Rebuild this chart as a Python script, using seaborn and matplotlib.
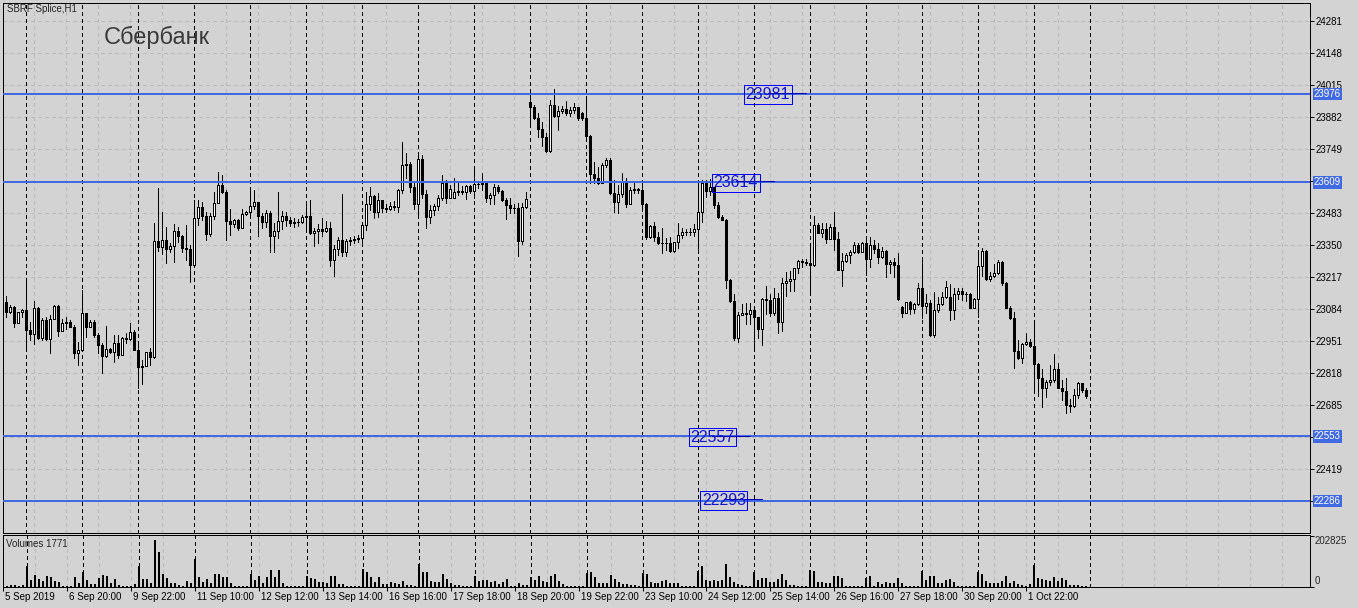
import numpy as np
import pandas as pd
import seaborn as sns
import matplotlib.pyplot as plt
from matplotlib import transforms

W, H, DPI = 1358, 608, 100
PX = 72 / DPI  # one pixel in points

# -------------------------
# Data: SBRF Splice, H1 bars (MOEX session 10:00-23:00)
# -------------------------
sessions = ["2019-09-05", "2019-09-06", "2019-09-09", "2019-09-10", "2019-09-11",
            "2019-09-12", "2019-09-13", "2019-09-16", "2019-09-17", "2019-09-18",
            "2019-09-19", "2019-09-20", "2019-09-23", "2019-09-24", "2019-09-25",
            "2019-09-26", "2019-09-27", "2019-09-30", "2019-10-01", "2019-10-02"]
first_bar_hour = 18

close_px = [
    23113, 23072, 23093, 23023, 23069, 23079,
    22996, 22978, 23086, 22964, 23037, 22957, 23041, 23095, 22993, 23023, 23028, 23010, 22902, 22913,
    23065, 23010, 23030, 22975, 22933, 22888, 22917, 22906, 22943, 22892, 22964, 22958, 22989, 22913,
    22843, 22846, 22903, 22885, 23366, 23342, 23370, 23331, 23345, 23407, 23388, 23338, 23331, 23266,
    23460, 23508, 23469, 23393, 23469, 23525, 23598, 23568, 23450, 23435, 23453, 23418, 23478, 23487,
    23512, 23526, 23471, 23446, 23480, 23388, 23407, 23449, 23469, 23453, 23442, 23444, 23443, 23464,
    23469, 23397, 23407, 23415, 23407, 23421, 23287, 23332, 23370, 23321, 23366, 23370, 23374, 23378,
    23432, 23519, 23552, 23485, 23536, 23504, 23498, 23511, 23505, 23577, 23681, 23686, 23591, 23519,
    23705, 23561, 23467, 23494, 23511, 23543, 23605, 23545, 23580, 23570, 23573, 23568, 23594, 23573,
    23602, 23602, 23605, 23545, 23557, 23589, 23575, 23536, 23515, 23504, 23503, 23366, 23505, 23540,
    23924, 23878, 23831, 23799, 23739, 23931, 23886, 23907, 23914, 23896, 23910, 23921, 23878, 23875,
    23803, 23644, 23626, 23605, 23681, 23702, 23564, 23526, 23559, 23612, 23519, 23577, 23582, 23577,
    23518, 23381, 23428, 23383, 23356, 23359, 23359, 23325, 23360, 23390, 23402, 23404, 23402, 23415,
    23485, 23608, 23573, 23589, 23515, 23464, 23453, 23203, 23118, 22964, 23058, 23065, 23061, 23079,
    23048, 22998, 23123, 23120, 23065, 23130, 23030, 23190, 23199, 23208, 23252, 23282, 23278, 23273,
    23264, 23432, 23400, 23415, 23374, 23425, 23374, 23245, 23282, 23307, 23321, 23349, 23318, 23359,
    23289, 23349, 23331, 23298, 23324, 23269, 23280, 23266, 23123, 23068, 23111, 23082, 23104, 23169,
    23095, 23106, 22975, 23079, 23102, 23131, 23173, 23079, 23145, 23159, 23144, 23144, 23088, 23124,
    23262, 23324, 23206, 23220, 23234, 23280, 23192, 23088, 23044, 22910, 22881, 22938, 22944, 22931,
    22853, 22795, 22753, 22781, 22788, 22832, 22756, 22740, 22684, 22680, 22726, 22774, 22746, 22723,
]

high_px = [
    23137, 23137, 23100, 23095, 23072, 23082,
    23210, 23030, 23116, 23093, 23044, 23051, 23058, 23098, 23100, 23040, 23048, 23037, 23017, 22947,
    23162, 23068, 23037, 23037, 22982, 22940, 23014, 22920, 22975, 22975, 22968, 22985, 23023, 22996,
    22933, 22871, 22906, 22920, 23439, 23584, 23487, 23425, 23356, 23436, 23425, 23390, 23432, 23349,
    23536, 23536, 23529, 23487, 23480, 23571, 23652, 23640, 23577, 23497, 23456, 23456, 23497, 23490,
    23584, 23577, 23529, 23480, 23494, 23490, 23439, 23570, 23490, 23485, 23464, 23460, 23456, 23474,
    23519, 23536, 23418, 23435, 23460, 23449, 23446, 23349, 23384, 23561, 23372, 23384, 23386, 23390,
    23436, 23568, 23591, 23557, 23564, 23536, 23519, 23529, 23533, 23580, 23775, 23730, 23695, 23612,
    23733, 23723, 23577, 23515, 23519, 23557, 23640, 23619, 23598, 23626, 23605, 23594, 23598, 23598,
    23667, 23612, 23647, 23598, 23566, 23602, 23598, 23578, 23543, 23543, 23518, 23522, 23525, 23571,
    23972, 23931, 23896, 23861, 23816, 23951, 23996, 23927, 23928, 23949, 23924, 23940, 23924, 23903,
    23958, 23806, 23695, 23672, 23688, 23709, 23709, 23619, 23598, 23647, 23626, 23591, 23605, 23584,
    23619, 23522, 23432, 23446, 23404, 23418, 23379, 23383, 23363, 23439, 23418, 23414, 23418, 23436,
    23608, 23619, 23619, 23622, 23591, 23529, 23474, 23457, 23208, 23144, 23072, 23104, 23106, 23106,
    23079, 23051, 23127, 23178, 23145, 23169, 23148, 23210, 23238, 23242, 23252, 23287, 23289, 23289,
    23345, 23469, 23439, 23442, 23439, 23436, 23485, 23404, 23314, 23317, 23328, 23363, 23359, 23363,
    23372, 23383, 23370, 23356, 23342, 23328, 23287, 23293, 23314, 23095, 23113, 23116, 23109, 23190,
    23287, 23145, 23120, 23155, 23134, 23155, 23199, 23185, 23169, 23169, 23169, 23155, 23148, 23127,
    23314, 23338, 23328, 23238, 23270, 23287, 23282, 23197, 23095, 23072, 22954, 22940, 22982, 22957,
    23021, 22857, 22834, 22788, 22850, 22896, 22857, 22788, 22795, 22709, 22749, 22778, 22777, 22756,
]

low_px = [
    23051, 23051, 23065, 23010, 23023, 23051,
    22926, 22954, 22936, 22957, 22954, 22954, 22899, 23044, 22972, 22996, 22998, 23010, 22878, 22850,
    22926, 22968, 23010, 22968, 22899, 22816, 22885, 22899, 22861, 22878, 22892, 22940, 22954, 22913,
    22753, 22771, 22848, 22850, 22878, 23325, 23312, 23273, 23321, 23280, 23363, 23321, 23287, 23197,
    23321, 23432, 23453, 23370, 23388, 23456, 23522, 23564, 23370, 23390, 23425, 23411, 23418, 23474,
    23469, 23498, 23388, 23418, 23425, 23318, 23321, 23379, 23414, 23428, 23428, 23425, 23429, 23442,
    23411, 23395, 23346, 23356, 23386, 23404, 23263, 23221, 23307, 23303, 23303, 23349, 23356, 23363,
    23349, 23411, 23494, 23460, 23467, 23487, 23487, 23494, 23494, 23485, 23566, 23626, 23570, 23498,
    23474, 23543, 23421, 23442, 23474, 23494, 23536, 23522, 23545, 23543, 23557, 23559, 23540, 23564,
    23543, 23584, 23577, 23529, 23518, 23519, 23566, 23533, 23457, 23483, 23480, 23305, 23353, 23501,
    23845, 23872, 23799, 23762, 23734, 23734, 23882, 23827, 23896, 23889, 23885, 23896, 23868, 23868,
    23799, 23605, 23605, 23601, 23615, 23672, 23559, 23487, 23483, 23550, 23508, 23519, 23564, 23564,
    23508, 23374, 23377, 23367, 23352, 23314, 23328, 23321, 23321, 23335, 23379, 23390, 23390, 23388,
    23330, 23446, 23550, 23557, 23501, 23460, 23453, 23169, 23113, 22954, 22947, 23058, 23021, 23021,
    22926, 22964, 22933, 23062, 23054, 23058, 22985, 22993, 23138, 23159, 23159, 23234, 23259, 23266,
    23151, 23263, 23397, 23383, 23356, 23372, 23328, 23245, 23180, 23280, 23273, 23314, 23314, 23325,
    23224, 23259, 23314, 23275, 23293, 23217, 23231, 23214, 23120, 23048, 23065, 23062, 23068, 23100,
    23044, 23065, 22972, 22968, 23072, 23100, 23127, 23037, 23041, 23124, 23120, 23118, 23086, 23086,
    23051, 23220, 23203, 23201, 23214, 23228, 23183, 23086, 23040, 22836, 22874, 22860, 22933, 22926,
    22746, 22723, 22674, 22719, 22767, 22781, 22753, 22705, 22650, 22654, 22677, 22712, 22739, 22715,
]

# open = previous close, except where the bar opened away from it
first_open = 23080
gap_open = {113: 23545, 132: 23942, 145: 23899, 225: 23090, 237: 23131}

# volume, thousands of contracts
volume_k = [
    3, 4, 6, 6, 4, 7,
    81, 27, 47, 30, 23, 43, 39, 24, 18, 4, 3, 3, 37, 16,
    57, 27, 11, 11, 34, 47, 41, 16, 30, 7, 4, 4, 4, 11,
    84, 30, 30, 16, 189, 138, 51, 34, 16, 16, 7, 4, 23, 16,
    111, 37, 20, 30, 14, 51, 50, 37, 37, 16, 4, 4, 4, 4,
    50, 27, 43, 14, 38, 68, 37, 68, 16, 3, 3, 3, 1, 1,
    41, 34, 31, 20, 20, 14, 43, 41, 11, 11, 4, 3, 3, 4,
    72, 57, 37, 20, 37, 11, 9, 20, 14, 9, 23, 7, 7, 4,
    92, 57, 57, 24, 20, 20, 51, 31, 16, 7, 7, 4, 4, 4,
    43, 23, 27, 27, 20, 23, 11, 20, 31, 4, 3, 14, 7, 7,
    38, 27, 43, 23, 20, 43, 51, 24, 11, 4, 4, 3, 3, 3,
    54, 57, 38, 16, 16, 16, 47, 30, 20, 9, 11, 7, 7, 4,
    54, 51, 18, 14, 14, 23, 27, 16, 14, 16, 4, 1, 1, 1,
    61, 84, 27, 24, 27, 23, 27, 92, 37, 18, 9, 7, 4, 3,
    58, 27, 34, 34, 18, 20, 31, 51, 27, 7, 7, 4, 3, 1,
    68, 64, 18, 18, 16, 16, 43, 43, 34, 4, 4, 4, 4, 1,
    34, 43, 4, 18, 12, 18, 14, 16, 34, 16, 4, 4, 4, 4,
    61, 27, 43, 41, 14, 16, 27, 30, 18, 4, 3, 4, 4, 3,
    57, 51, 23, 14, 14, 16, 23, 43, 16, 23, 9, 7, 4, 9,
    88, 34, 31, 27, 24, 38, 24, 34, 27, 7, 7, 7, 4, 1.771,
]
vol_max_k = 202.825

price_ticks = [24281, 24148, 24015, 23882, 23749, 23616, 23483, 23350,
               23217, 23084, 22951, 22818, 22685, 22552, 22419, 22286]
level_lines = [23976, 23609, 22553, 22286]
level_labels = [23981, 23614, 22557, 22293]

# -------------------------
# layout / style
# -------------------------
label_bar = [191.4, 183.4, 177.5, 180.4]   # where the level labels sit (bar units)
XLIM = (0.1, 327.0)
YLIM = (22150.6, 24356)
BG = "#d3d3d3"
GRID = "#bababa"
BLUE = "#4169e1"

sns.set_theme(style="white", rc={"axes.facecolor": BG, "figure.facecolor": BG,
                                 "lines.scale_dashes": False})
plt.rcParams["font.family"] = ["Liberation Sans", "DejaVu Sans"]

# bar timestamps -> day separators and time labels
times = []
for k, d in enumerate(pd.to_datetime(sessions)):
    start = first_bar_hour if k == 0 else 10
    times += [d + pd.Timedelta(hours=h) for h in range(start, 24)]
bars = pd.DataFrame({"time": times, "close": close_px, "high": high_px,
                     "low": low_px, "volume": volume_k})
bars["bar"] = np.arange(len(bars))
bars["open"] = [first_open] + close_px[:-1]
for i, v in gap_open.items():
    bars.loc[i, "open"] = v
day = bars["time"].dt.date
separators = list(bars.index[day != day.shift()][1:]) + [len(bars)]
label_idx = list(range(0, len(bars), 16))
time_labels = [f"{t.day} {t:%b %Y}" if k == 0 else f"{t.day} {t:%b %H:%M}"
               for k, t in enumerate(bars["time"].iloc[label_idx])]


def box(x0, y0, x1, y1):
    return [x0 / W, 1 - y1 / H, (x1 - x0) / W, (y1 - y0) / H]


fig = plt.figure(figsize=(W / DPI, H / DPI), dpi=DPI)
ax = fig.add_axes(box(2.7, 2.7, 1310.3, 533.3))
axv = fig.add_axes(box(2.7, 535.0, 1310.3, 586.7))

for a in (ax, axv):
    for s in a.spines.values():
        s.set_color("black")
        s.set_linewidth(PX)
    for k in range(0, 330, 8):
        a.axvline(k, color=GRID, lw=PX, ls=(0, (4 * PX, 4 * PX)), zorder=0.5, antialiased=False)
    for s in separators:
        a.axvline(s, color="black", lw=PX, ls=(0, (3 * PX, 3 * PX)), zorder=0.6, antialiased=False)

for p in price_ticks:
    ax.axhline(p, color=GRID, lw=PX, ls=(0, (4 * PX, 4 * PX)), zorder=0.5, antialiased=False)

# candles
bull = bars["close"] >= bars["open"]
ax.vlines(bars["bar"], bars["low"], bars["high"], colors="black", lw=PX,
          zorder=2, antialiased=False)
ax.bar(bars["bar"], bars["close"] - bars["open"], bottom=bars["open"], width=0.5,
       color=np.where(bull, "white", "black"), edgecolor="black", linewidth=PX,
       zorder=3, antialiased=False)

# horizontal levels
for v in level_lines:
    ax.axhline(v, color=BLUE, lw=2 * PX, zorder=4)
    ax.annotate(str(v), xy=(1, v), xycoords=("axes fraction", "data"),
                xytext=(3.5 * PX, 0), textcoords="offset points", ha="left", va="center",
                fontsize=7, color="white", annotation_clip=False,
                bbox=dict(boxstyle="square,pad=0.12", fc=BLUE, ec="none"))

for v, b in zip(level_labels, label_bar):
    ax.plot([b, b + 9.5], [v, v], color="#0000b0", lw=PX, zorder=5)
    ax.text(b, v, str(v), ha="center", va="center_baseline", fontsize=11.5, color="#1515d0",
            zorder=6, bbox=dict(boxstyle="square,pad=0.1", fc="none", ec="#0000ff", lw=PX))

ax.set_xlim(*XLIM)
ax.set_ylim(*YLIM)
ax.set_xticks([])
ax.yaxis.tick_right()
ax.set_yticks(price_ticks)
ax.set_yticklabels(["" if min(abs(p - lv) for lv in level_lines) < 12 else str(p)
                    for p in price_ticks])
ax.tick_params(axis="y", direction="out", length=4 * PX, width=PX, pad=1.2 * PX,
               labelsize=7, colors="black")

# volumes
sns.barplot(data=bars, x="bar", y="volume", native_scale=True, color="black",
            saturation=1, width=0.5, errorbar=None, linewidth=0, ax=axv)
for p in axv.patches:
    p.set_antialiased(False)
axv.set_xlim(*XLIM)
axv.set_ylim(0, vol_max_k * 50 / 49.3 * 1.0 + 1.5)
axv.set_xlabel("")
axv.set_ylabel("")
axv.yaxis.tick_right()
axv.set_yticks([0, vol_max_k])
axv.set_yticklabels([])
axv.tick_params(axis="y", direction="out", length=4 * PX, width=PX, colors="black")
axv.set_xticks(label_idx)
axv.set_xticklabels(time_labels, fontsize=7, ha="left")
axv.tick_params(axis="x", direction="out", length=4 * PX, width=PX, pad=1.6 * PX,
                colors="black", bottom=True)
shift = transforms.ScaledTranslation(2 / DPI, 0, fig.dpi_scale_trans)
for lab in axv.get_xticklabels():
    lab.set_transform(lab.get_transform() + shift)

fig.text(1315 / W, 1 - 540.5 / H, f"{vol_max_k * 1000:.0f}", fontsize=7, va="center", ha="left")
fig.text(1315 / W, 1 - 581.5 / H, "0", fontsize=7, va="center", ha="left")
fig.text(6 / W, 1 - 544 / H, f"Volumes {volume_k[-1] * 1000:.0f}", fontsize=7, va="center")
fig.text(7 / W, 1 - 9 / H, "SBRF Splice,H1", fontsize=7, va="center")
fig.text(104 / W, 1 - 37 / H, "Сбербанк", fontsize=17, color="#3a3a3a", va="center")

fig.savefig("out.png", dpi=DPI, facecolor=BG)
